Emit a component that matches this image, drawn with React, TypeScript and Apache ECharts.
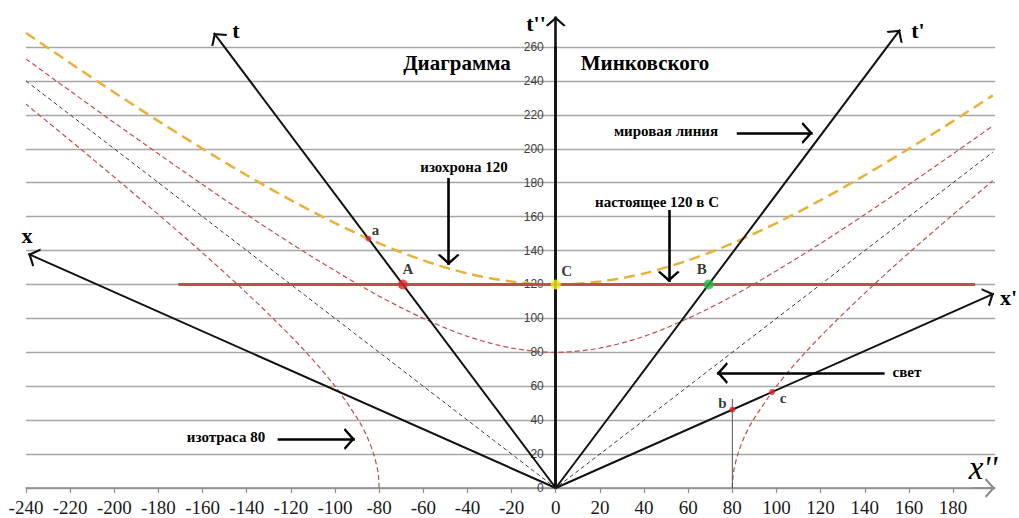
import React, { useEffect, useRef } from "react";
import * as echarts from "echarts";

// ---- axis ranges / ticks ----
const X_MIN = -240;
const X_MAX = 199;
const T_MIN = 0;
const T_MAX = 260;
const TICK_STEP = 20;

// ---- curves ----
const curveX = [-240, -220, -200, -180, -160, -140, -120, -100, -80, -60, -40, -20, 0, 20, 40, 60, 80, 100, 120, 140, 160, 180, 198];
const isochrone120T = [268.3, 250.6, 233.2, 216.3, 200, 184.4, 169.7, 156.2, 144.2, 134.2, 126.5, 121.7, 120, 121.7, 126.5, 134.2, 144.2, 156.2, 169.7, 184.4, 200, 216.3, 231.5];
const isochrone80T = [253.0, 234.1, 215.4, 197.0, 178.9, 161.2, 144.2, 128.1, 113.1, 100, 89.4, 82.5, 80, 82.5, 89.4, 100, 113.1, 128.1, 144.2, 161.2, 178.9, 197.0, 213.5];

const isotraceLeftT = [0, 5, 10, 20, 30, 40, 60, 80, 100, 120, 140, 160, 180, 200, 226.3];
const isotraceLeftX = [-80, -80.2, -80.6, -82.5, -85.4, -89.4, -100, -113.1, -128.1, -144.2, -161.2, -178.9, -197.0, -215.4, -240];
const isotraceRightT = [0, 5, 10, 20, 30, 40, 60, 80, 100, 120, 140, 160, 181.2];
const isotraceRightX = [80, 80.2, 80.6, 82.5, 85.4, 89.4, 100, 113.1, 128.1, 144.2, 161.2, 178.9, 198];

const lightConeX = [-240, 0, 198];
const lightConeT = [240, 0, 198];

const presentX = [-171, 190];
const presentT = [120, 120];

// ---- frame axes (from origin to arrow tip) ----
const frameNames = ["t", "t'", "x", "x'", "t''"];
const frameTipX = [-154.9, 156.0, -239.0, 198.5, 0];
const frameTipT = [268.3, 270.2, 138.0, 114.6, 278];

// ---- events ----
const pointNames = ["a", "A", "C", "B", "b", "c"];
const pointX = [-84.85, -69.28, 0, 69.28, 80, 97.98];
const pointT = [146.97, 120, 120, 120, 46.19, 56.57];

// ---- vertical marker at x = 80 ----
const markerX = [80, 80];
const markerT = [0, 52.5];

// ---- annotation arrows (start -> tip), data coords ----
const annotFromX = [82.0, -48.5, 51.2, 149.0, -126.0];
const annotFromT = [209.3, 182.8, 163.9, 67.8, 28.9];
const annotToX = [116.4, -48.5, 51.2, 73.0, -91.0];
const annotToT = [209.3, 131.5, 121.5, 67.8, 28.9];

// chevron arrow head, tip at the symbol centre
const CHEVRON = "path://M0,-10 L0.01,-10 L0,-9.99 Z M0,0 L6,9 L4.8,10 L0,3 L-4.8,10 L-6,9 Z";

const SERIF = '"Liberation Serif", "Times New Roman", serif';

// grid layout (pixels)
const GRID_LEFT = 26;
const GRID_RIGHT = 24;
const CHART_W = 1019;

export default function App() {
  const ref = useRef<HTMLDivElement>(null);

  useEffect(() => {
    if (!ref.current) return;
    const chart = echarts.init(ref.current, null, { renderer: "svg" });

    const pair = (xs: number[], ts: number[]) => xs.map((x, i) => [x, ts[i]]);

    // position of x = 0 inside the grid, used to put the t'' axis labels on it
    const plotW = CHART_W - GRID_LEFT - GRID_RIGHT;
    const zeroOffset = (-X_MIN / (X_MAX - X_MIN)) * plotW;

    const frameLines = frameNames.map((n, i) => ({
      name: n,
      coords: [[0, 0], [frameTipX[i], frameTipT[i]]],
      lineStyle: { width: n === "t''" ? 2.6 : 2, color: "#111" },
    }));

    const annotLines = annotFromX.map((x, i) => ({
      coords: [[x, annotFromT[i]], [annotToX[i], annotToT[i]]],
    }));

    const pointColors = ["#e3262b", "#e3262b", "#ffe81a", "#2fb04a", "#e3262b", "#e3262b"];
    const pointSizes = [6, 10, 10, 10, 6, 6];
    const labelOffsets = [[7, -9], [5, -15], [11, -13], [-7, -15], [-10, -7], [11, 6]];

    const textStyle = (text: string, x: number, y: number, font: string, align = "center") => ({
      type: "text",
      x,
      y,
      silent: true,
      style: {
        text,
        font,
        fill: "#000",
        align,
        verticalAlign: "middle",
        textAlign: align,
        textVerticalAlign: "middle",
      },
    });

    const bold21 = `bold 21px ${SERIF}`;
    const bold15 = `bold 15px ${SERIF}`;
    const bold22 = `bold 22px ${SERIF}`;

    chart.setOption({
      animation: false,
      backgroundColor: "#ffffff",
      grid: { left: GRID_LEFT, right: GRID_RIGHT, top: 47, bottom: 30, containLabel: false },
      xAxis: {
        type: "value",
        min: X_MIN,
        max: X_MAX,
        interval: TICK_STEP,
        axisLine: { show: true, onZero: false, lineStyle: { color: "#8c8c8c", width: 1.5 } },
        axisTick: { show: true, length: 5, lineStyle: { color: "#8c8c8c", width: 1.2 } },
        axisLabel: {
          fontFamily: SERIF,
          fontSize: 19,
          color: "#1a1a1a",
          margin: 10,
          showMaxLabel: false,
        },
        splitLine: { show: false },
      },
      yAxis: {
        type: "value",
        min: T_MIN,
        max: T_MAX,
        interval: TICK_STEP,
        position: "left",
        offset: -zeroOffset,
        axisLine: { show: true, onZero: false, lineStyle: { color: "#111", width: 2.6 } },
        axisTick: { show: false },
        axisLabel: {
          fontFamily: '"Liberation Sans", Arial, sans-serif',
          fontSize: 12,
          color: "#404040",
          margin: 12,
        },
        splitLine: { show: true, lineStyle: { color: "#a6a6a6", width: 1.3 } },
      },
      series: [
        {
          name: "isochrone 120",
          type: "line",
          data: pair(curveX, isochrone120T),
          smooth: 0.3,
          symbol: "none",
          clip: false,
          z: 3,
          lineStyle: { color: "#E8B13C", width: 2.5, type: [11, 6] },
        },
        {
          name: "isochrone 80",
          type: "line",
          data: pair(curveX, isochrone80T),
          smooth: 0.3,
          symbol: "none",
          clip: false,
          z: 3,
          lineStyle: { color: "#C0504D", width: 1.2, type: [5, 3] },
        },
        {
          name: "isotrace left",
          type: "line",
          data: pair(isotraceLeftX, isotraceLeftT),
          smooth: 0.3,
          symbol: "none",
          clip: false,
          z: 3,
          lineStyle: { color: "#C0504D", width: 1.2, type: [5, 3] },
        },
        {
          name: "isotrace right",
          type: "line",
          data: pair(isotraceRightX, isotraceRightT),
          smooth: 0.3,
          symbol: "none",
          clip: false,
          z: 3,
          lineStyle: { color: "#C0504D", width: 1.2, type: [5, 3] },
        },
        {
          name: "light",
          type: "line",
          data: pair(lightConeX, lightConeT),
          symbol: "none",
          clip: false,
          z: 3,
          lineStyle: { color: "#3a3a3a", width: 1, type: [4, 3] },
        },
        {
          name: "present",
          type: "line",
          data: pair(presentX, presentT),
          symbol: "none",
          clip: false,
          z: 4,
          lineStyle: { color: "#C0504D", width: 3 },
        },
        {
          name: "marker",
          type: "line",
          data: pair(markerX, markerT),
          symbol: "none",
          clip: false,
          z: 4,
          lineStyle: { color: "#555", width: 1 },
        },
        {
          name: "frames",
          type: "lines",
          coordinateSystem: "cartesian2d",
          polyline: false,
          clip: false,
          z: 5,
          symbol: ["none", CHEVRON],
          symbolSize: [12, 20],
          lineStyle: { color: "#111", width: 2, opacity: 1 },
          data: frameLines,
        },
        {
          name: "x'' axis arrow",
          type: "lines",
          coordinateSystem: "cartesian2d",
          polyline: false,
          clip: false,
          z: 5,
          symbol: ["none", CHEVRON],
          symbolSize: [12, 20],
          lineStyle: { color: "#8c8c8c", width: 1.5, opacity: 1 },
          data: [{ coords: [[X_MAX - 10, 0], [X_MAX, 0]] }],
        },
        {
          name: "annotations",
          type: "lines",
          coordinateSystem: "cartesian2d",
          polyline: false,
          clip: false,
          z: 5,
          symbol: ["none", CHEVRON],
          symbolSize: [14, 22],
          lineStyle: { color: "#000", width: 2.6, opacity: 1 },
          data: annotLines,
        },
        {
          name: "events",
          type: "scatter",
          clip: false,
          z: 6,
          data: pointNames.map((n, i) => ({
            name: n,
            value: [pointX[i], pointT[i]],
            symbolSize: pointSizes[i],
            itemStyle: { color: pointColors[i] },
            label: { offset: labelOffsets[i] },
          })),
          label: {
            show: true,
            position: "inside",
            formatter: "{b}",
            fontFamily: SERIF,
            fontWeight: "bold",
            fontSize: 15,
            color: "#000",
          },
        },
      ],
      graphic: [
        textStyle("Диаграмма", 457, 63, bold21),
        textStyle("Минковского", 645, 63, bold21),
        textStyle("мировая линия", 666, 131, bold15),
        textStyle("изохрона 120", 464, 167, bold15),
        textStyle("настоящее 120 в С", 657, 202, bold15),
        textStyle("свет", 907, 372, bold15),
        textStyle("изотраса 80", 226, 437, bold15),
        textStyle("t", 236, 30, bold22),
        textStyle("t'", 918, 30, bold22),
        textStyle("x", 27, 235, bold22),
        textStyle("x'", 1000, 297, bold22, "left"),
        textStyle("t''", 536, 23, bold22),
        textStyle("x''", 983, 468, `italic 33px ${SERIF}`),
      ],
    });

    return () => chart.dispose();
  }, []);

  return (
    <div
      ref={ref}
      style={{ position: "fixed", left: 0, top: 0, width: CHART_W, height: 518, background: "#fff" }}
    />
  );
}
